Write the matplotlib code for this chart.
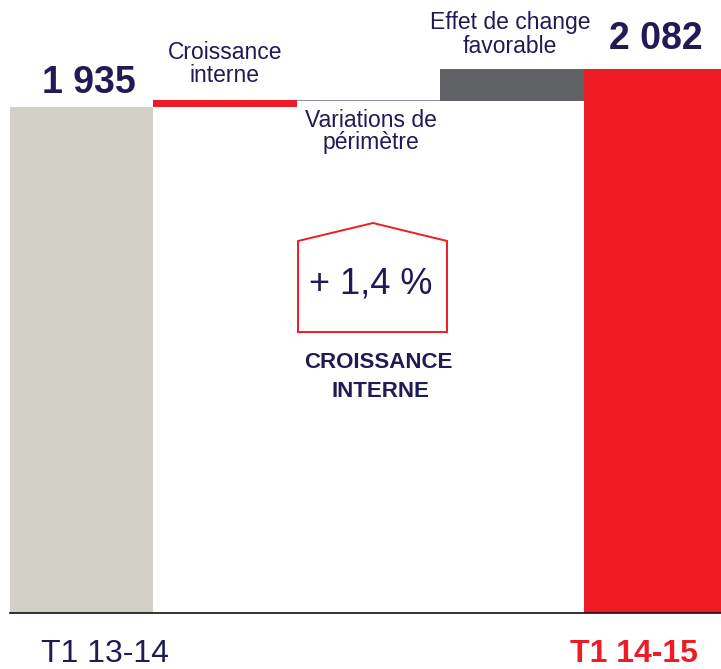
import matplotlib
matplotlib.use("Agg")
import matplotlib.pyplot as plt
from matplotlib.patches import Polygon

# waterfall data (millions)
steps = ["T1 13-14", "Croissance interne", "Variations de périmètre",
         "Effet de change favorable", "T1 14-15"]
start_value = 1935
deltas = [28, -5, 124]
end_value = 2082
growth_label = "+ 1,4 %"
growth_caption = ["CROISSANCE", "INTERNE"]

NAVY = "#1f1b55"
RED = "#ee1c25"
SAND = "#d3d0c8"
DARK = "#616266"
LAVENDER = "#8b8fb2"

plt.rcParams['font.family'] = ['Liberation Sans', 'DejaVu Sans']

W, H = 721, 669
fig = plt.figure(figsize=(W / 100, H / 100), dpi=100)


def px(x, y):
    # pixel (from top-left) -> figure fraction
    return x / W, 1 - y / H


base_px = 613
left_px = 10
ax = fig.add_axes([left_px / W, 1 - base_px / H, (W - left_px) / W, base_px / H])

# bars
bottoms = [0]
heights = [start_value]
run = start_value
for d in deltas:
    bottoms.append(run if d >= 0 else run + d)
    heights.append(abs(d))
    run += d
bottoms.append(0)
heights.append(end_value)
colors = [SAND, RED, LAVENDER, DARK, RED]

ax.bar(range(len(steps)), heights, bottom=bottoms, width=1.0, color=colors,
       linewidth=0, align="center")

scale = (base_px - 107) / start_value  # px per unit
ax.set_ylim(0, base_px / scale)
ax.set_xlim(-0.5, -0.5 + (W - left_px) / 143.4)

for s in ["top", "right", "left"]:
    ax.spines[s].set_visible(False)
ax.spines["bottom"].set_color("#111111")
ax.spines["bottom"].set_linewidth(1.2)
ax.set_xticks([])
ax.set_yticks([])
ax.patch.set_alpha(0)


def fmt(v):
    return f"{v:,}".replace(",", " ")


# value labels
fig.text(*px(89, 93), fmt(start_value), ha="center", va="baseline",
         fontsize=27, fontweight="bold", color=NAVY)
fig.text(*px(656, 49), fmt(end_value), ha="center", va="baseline",
         fontsize=27, fontweight="bold", color=NAVY)

# step labels (two lines each)
step_lines = [
    (["Croissance", "interne"], 225, 59, 22.5),
    (["Variations de", "périmètre"], 371, 127, 22.5),
    (["Effet de change", "favorable"], 510, 29, 24),
]
for lines, cx, by, gap in step_lines:
    for i, t in enumerate(lines):
        fig.text(*px(cx, by + i * gap), t, ha="center", va="baseline",
                 fontsize=16.5, color=NAVY)

# category labels
fig.text(*px(105, 662), steps[0], ha="center", va="baseline",
         fontsize=23, color=NAVY)
fig.text(*px(634, 662), steps[-1], ha="center", va="baseline",
         fontsize=23, fontweight="bold", color=RED)

# house-shaped box
house = [px(298, 332), px(298, 241), px(373, 223), px(447, 241), px(447, 332)]
fig.patches.append(Polygon(house, closed=True, fill=False, edgecolor=RED,
                           linewidth=1.4, transform=fig.transFigure))
fig.text(*px(371, 293), growth_label, ha="center", va="baseline",
         fontsize=26, color=NAVY)
fig.text(*px(378, 368), growth_caption[0], ha="center", va="baseline",
         fontsize=16, fontweight="bold", color=NAVY)
fig.text(*px(380, 397), growth_caption[1], ha="center", va="baseline",
         fontsize=16, fontweight="bold", color=NAVY)

fig.savefig("out.png", dpi=100)
